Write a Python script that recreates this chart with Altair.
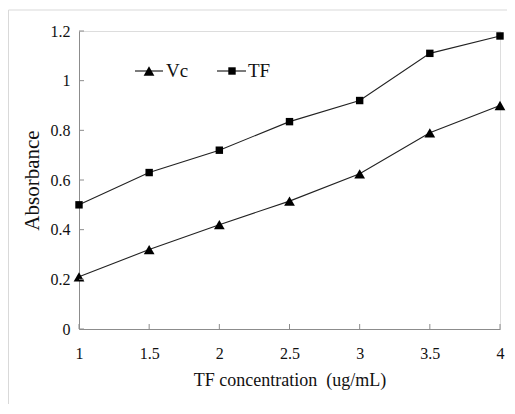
import altair as alt
import pandas as pd

conc = [1, 1.5, 2, 2.5, 3, 3.5, 4]
vc = [0.21, 0.32, 0.42, 0.515, 0.625, 0.79, 0.90]
tf = [0.50, 0.63, 0.72, 0.835, 0.92, 1.11, 1.18]
series_names = ["Vc", "TF"]
x_ticks = [1, 1.5, 2, 2.5, 3, 3.5, 4]
y_ticks = [0, 0.2, 0.4, 0.6, 0.8, 1.0, 1.2]

FONT = "'Liberation Serif', 'Times New Roman', serif"
W, H = 421, 298

df = pd.DataFrame({
    "conc": conc * 2,
    "abs": vc + tf,
    "series": [series_names[0]] * len(conc) + [series_names[1]] * len(conc),
})

xs = alt.Scale(domain=[1, 4], nice=False, zero=False)
ys = alt.Scale(domain=[0, 1.2], nice=False)

xaxis = alt.Axis(values=x_ticks, format=".1~f", ticks=False, grid=False,
                 domainColor="#8c8c8c", labelFont=FONT, labelFontSize=16,
                 labelColor="#111", labelPadding=16, labelFlush=False,
                 labelOverlap=False,
                 title="TF concentration\u00a0\u00a0(ug/mL)",
                 titleFont=FONT, titleFontSize=18, titleFontWeight="normal",
                 titleColor="#111", titlePadding=10)
yaxis = alt.Axis(values=y_ticks, format=".1~f", ticks=False, grid=False,
                 domainColor="#8c8c8c", labelFont=FONT, labelFontSize=16,
                 labelColor="#111", labelPadding=9, labelFlush=False,
                 labelOverlap=False, title="Absorbance",
                 titleFont=FONT, titleFontSize=21, titleFontWeight="normal",
                 titleColor="#111", titlePadding=8)

sym_scale = alt.Scale(domain=series_names, range=["triangle-up", "square"])
size_scale = alt.Scale(domain=series_names, range=[115, 55])

base = alt.Chart(df)
lines = base.mark_line(color="#222", strokeWidth=1.1).encode(
    x=alt.X("conc:Q", scale=xs, axis=xaxis),
    y=alt.Y("abs:Q", scale=ys, axis=yaxis),
    detail="series:N",
)
pts = base.mark_point(filled=True, color="black", opacity=1).encode(
    x=alt.X("conc:Q", scale=xs),
    y=alt.Y("abs:Q", scale=ys),
    shape=alt.Shape("series:N", scale=sym_scale, legend=None),
    size=alt.Size("series:N", scale=size_scale, legend=None),
)

# inward tick marks
xt = alt.Chart(pd.DataFrame({"t": x_ticks})).mark_rule(color="#8c8c8c").encode(
    x=alt.X("t:Q", scale=xs), y=alt.value(H - 5), y2=alt.value(H))
yt = alt.Chart(pd.DataFrame({"t": y_ticks})).mark_rule(color="#8c8c8c").encode(
    y=alt.Y("t:Q", scale=ys), x=alt.value(0), x2=alt.value(5))

# custom legend
leg = pd.DataFrame({"series": series_names, "x1": [56, 138], "x2": [84, 167],
                    "xm": [70, 153], "xt": [87, 169]})
ll = alt.Chart(leg).mark_rule(color="#222", strokeWidth=1.2).encode(
    x=alt.X("x1:Q", scale=None), x2="x2:Q", y=alt.value(40))
lm = alt.Chart(leg).mark_point(filled=True, color="black", opacity=1).encode(
    x=alt.X("xm:Q", scale=None), y=alt.value(40),
    shape=alt.Shape("series:N", scale=sym_scale, legend=None),
    size=alt.Size("series:N", scale=size_scale, legend=None),
)
lt = alt.Chart(leg).mark_text(font=FONT, fontSize=19, align="left", baseline="middle",
                              color="#111").encode(
    x=alt.X("xt:Q", scale=None), y=alt.value(40), text="series:N")

# outer frame
frame_l = alt.Chart(pd.DataFrame({"a": [0]})).mark_rule(color="#d9d9d9").encode(
    x=alt.value(-70.5), y=alt.value(-21), y2=alt.value(H + 80))
frame_t = alt.Chart(pd.DataFrame({"a": [0]})).mark_rule(color="#d9d9d9").encode(
    x=alt.value(-70.5), x2=alt.value(W + 10), y=alt.value(-21))

chart = alt.layer(frame_l, frame_t, lines, pts, xt, yt, ll, lm, lt).properties(
    width=W, height=H,
    autosize=alt.AutoSizeParams(type="none"),
    padding={"left": 71, "top": 23, "right": 7, "bottom": 75},
).configure_view(stroke=None).configure(background="white")

chart.save("out.html", embed_options={"renderer": "svg", "actions": False})
